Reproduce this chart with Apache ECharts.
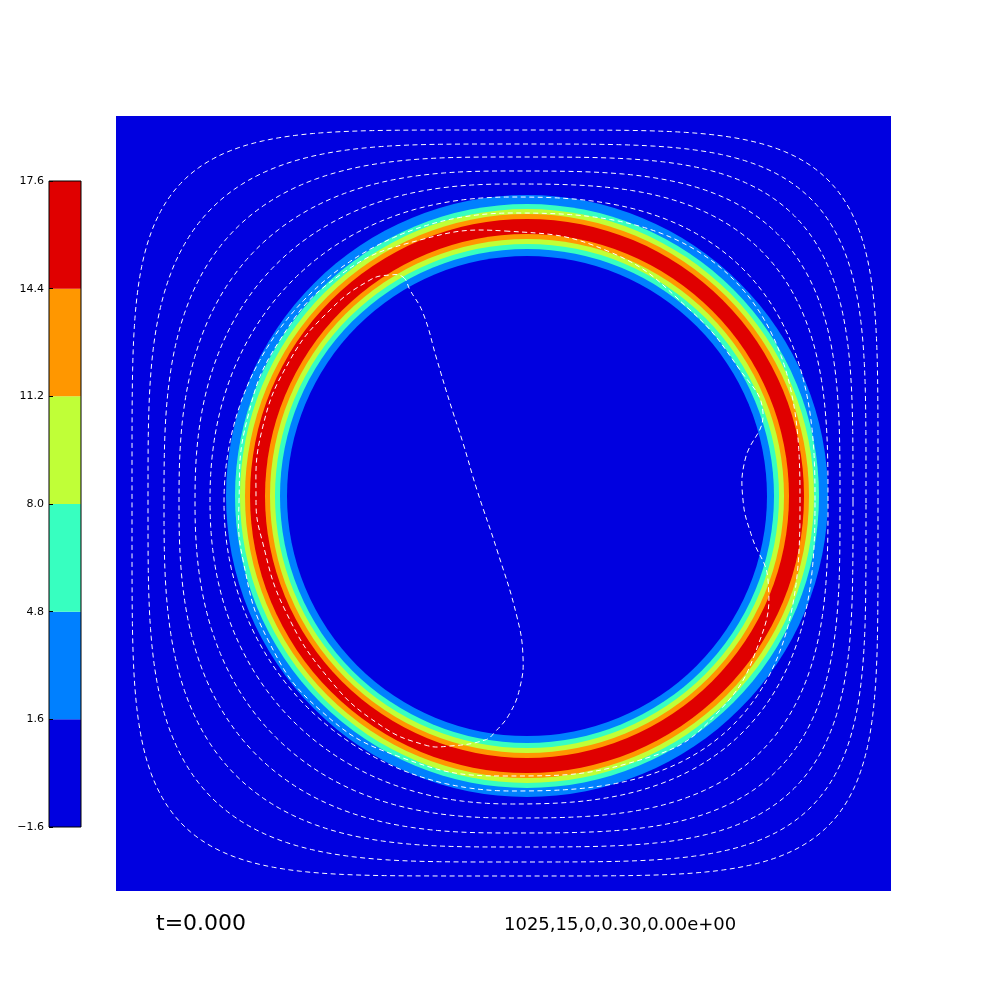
<!DOCTYPE html>
<html>
<head>
<meta charset="utf-8">
<style>
  html, body { margin: 0; padding: 0; background: #ffffff; }
  #chart { width: 1008px; height: 1008px; }
</style>
<script src="https://cdn.jsdelivr.net/npm/echarts@6/dist/echarts.min.js"></script>
</head>
<body>
<div id="chart"></div>
<script>
// ---- colour levels (colorbar) ----
const levels = [-1.6, 1.6, 4.8, 8.0, 11.2, 14.4, 17.6];
const tickLabels = ['\u22121.6', '1.6', '4.8', '8.0', '11.2', '14.4', '17.6'];
const bandColors = ['#0000e0', '#0080ff', '#37ffc0', '#c0ff37', '#ff9700', '#e00000'];

// ---- ring field: radii (domain units) where the field crosses each level, outer to inner ----
const ringCenter = [411, 395];
const ringRadii = [301, 292, 287, 282, 277, 262, 257, 252, 247, 240];
const ringBandInside = [1, 2, 3, 4, 5, 4, 3, 2, 1, 0];

// ---- outer dashed contours (domain units, y up): extents on the axes through the centre ----
const streamLeft   = [16, 32, 48, 63, 79, 94, 108];
const streamRight  = [762, 750, 737, 724, 712, 699, 684];
const streamTop    = [761, 747, 734, 720, 707, 694, 678];
const streamBottom = [15, 29, 44, 58, 73, 87, 100];
// distance from the centre, along each 45-degree diagonal, where each contour crosses it
const cornerTR = [323, 304, 286, 268, 250, 231, 222];
const cornerTL = [322, 295, 273, 253, 236, 220, 205];
const cornerBL = [322, 295, 273, 253, 236, 220, 205];
const cornerBR = [323, 304, 286, 268, 250, 231, 222];

// ---- inner dashed contours near/through the ring (domain units, y up) ----
const c8 = [[389,660],[494,639],[574,581],[624,521],[647,478],[629,431],[627,391],[636,354],[652,311],[644,251],[604,181],[534,134],[389,115],[284,134],[204,181],[152,251],[127,331],[123,389],[131,471],[164,551],[224,616],[304,651]];
const c9 = [[287,614],[294,601],[307,578],[321,531],[334,488],[347,448],[361,401],[381,341],[401,274],[407,234],[404,204],[394,178],[379,159],[369,151],[334,145],[309,146],[264,166],[214,211],[169,281],[146,351],[140,391],[146,461],[174,531],[214,581],[254,611],[274,616]];
const innerContours = [c8, c9];

const dashStyle = { fill: 'none', stroke: '#ffffff', lineWidth: 1, lineDash: [5, 3.5] };

// exponent of the rounded-square outline that passes through the measured diagonal crossing
function cornerExponent(d, a, b) {
  let lo = 1.05, hi = 40;
  for (let k = 0; k < 60; k++) {
    const mid = (lo + hi) / 2;
    const f = Math.pow(d / a, mid) + Math.pow(d / b, mid) - 1;
    if (f > 0) lo = mid; else hi = mid;
  }
  return (lo + hi) / 2;
}

function streamOutline(i) {
  const cx = (streamLeft[i] + streamRight[i]) / 2;
  const cy = (streamTop[i] + streamBottom[i]) / 2;
  const aR = streamRight[i] - cx, aL = cx - streamLeft[i];
  const bT = streamTop[i] - cy, bB = cy - streamBottom[i];
  const nTR = cornerExponent(cornerTR[i], aR, bT);
  const nTL = cornerExponent(cornerTL[i], aL, bT);
  const nBL = cornerExponent(cornerBL[i], aL, bB);
  const nBR = cornerExponent(cornerBR[i], aR, bB);
  const pts = [];
  const N = 360;
  for (let k = 0; k < N; k++) {
    const t = 2 * Math.PI * k / N;
    const c = Math.cos(t), s = Math.sin(t);
    const n = c >= 0 ? (s >= 0 ? nTR : nBR) : (s >= 0 ? nTL : nBL);
    const x = cx + Math.sign(c) * (c >= 0 ? aR : aL) * Math.pow(Math.abs(c), 2 / n);
    const y = cy + Math.sign(s) * (s >= 0 ? bT : bB) * Math.pow(Math.abs(s), 2 / n);
    pts.push([x, y]);
  }
  return pts;
}

const chart = echarts.init(document.getElementById('chart'), null, { renderer: 'canvas' });

const option = {
  backgroundColor: '#ffffff',
  animation: false,
  grid: [
    { left: 116, top: 116, width: 775, height: 775, show: true, backgroundColor: bandColors[0], borderWidth: 0 },
    { left: 49, top: 181, width: 32, height: 646, show: false }
  ],
  xAxis: [
    { gridIndex: 0, type: 'value', min: 0, max: 775, show: false },
    { gridIndex: 1, type: 'value', min: 0, max: 1, show: false }
  ],
  yAxis: [
    { gridIndex: 0, type: 'value', min: 0, max: 775, show: false },
    {
      gridIndex: 1, type: 'value', min: levels[0], max: levels[levels.length - 1], interval: 3.2,
      position: 'left', z: 10,
      axisLine: { show: false },
      splitLine: { show: false },
      axisTick: { show: true, inside: true, length: 4, lineStyle: { color: '#000', width: 1 } },
      axisLabel: {
        margin: 5, color: '#000', fontSize: 11, fontFamily: 'DejaVu Sans',
        formatter: function (v) {
          const i = levels.findIndex(l => Math.abs(l - v) < 1e-6);
          return i >= 0 ? tickLabels[i] : '';
        }
      }
    }
  ],
  series: [
    {
      type: 'custom', xAxisIndex: 0, yAxisIndex: 0, z: 2,
      data: ringRadii.map((r, i) => [ringCenter[0], ringCenter[1], r, ringBandInside[i]]),
      renderItem: function (params, api) {
        const c = api.coord([api.value(0), api.value(1)]);
        const r = api.size([api.value(2), 0])[0];
        return { type: 'circle', shape: { cx: c[0], cy: c[1], r: r }, style: { fill: bandColors[api.value(3)] } };
      }
    },
    {
      type: 'custom', xAxisIndex: 0, yAxisIndex: 0, z: 3,
      data: streamLeft.map((l, i) => [i]),
      renderItem: function (params, api) {
        const pts = streamOutline(api.value(0)).map(p => api.coord(p));
        return { type: 'polygon', shape: { points: pts }, style: dashStyle };
      }
    },
    {
      type: 'custom', xAxisIndex: 0, yAxisIndex: 0, z: 3,
      data: innerContours.map((c, i) => [i]),
      renderItem: function (params, api) {
        const pts = innerContours[api.value(0)].map(p => api.coord(p));
        return { type: 'polygon', shape: { points: pts, smooth: 0.45 }, style: dashStyle };
      }
    },
    {
      type: 'custom', xAxisIndex: 1, yAxisIndex: 1, z: 2,
      data: bandColors.map((c, i) => [levels[i], levels[i + 1], i]),
      renderItem: function (params, api) {
        const p0 = api.coord([0, api.value(0)]);
        const p1 = api.coord([1, api.value(1)]);
        return { type: 'rect', shape: { x: p0[0], y: p1[1], width: p1[0] - p0[0], height: p0[1] - p1[1] }, style: { fill: bandColors[api.value(2)] } };
      }
    },
    {
      type: 'custom', xAxisIndex: 1, yAxisIndex: 1, z: 4,
      data: [[levels[0], levels[levels.length - 1]]],
      renderItem: function (params, api) {
        const p0 = api.coord([0, api.value(0)]);
        const p1 = api.coord([1, api.value(1)]);
        return { type: 'rect', shape: { x: p0[0], y: p1[1], width: p1[0] - p0[0], height: p0[1] - p1[1] }, style: { fill: 'none', stroke: '#000', lineWidth: 1 } };
      }
    }
  ],
  graphic: [
    { type: 'text', left: 156, top: 913, style: { text: 't=0.000', fill: '#000', font: '22px "DejaVu Sans"' } },
    { type: 'text', left: 504, top: 916, style: { text: '1025,15,0,0.30,0.00e+00', fill: '#000', font: '18px "DejaVu Sans"' } }
  ]
};
chart.setOption(option);
</script>
</body>
</html>
